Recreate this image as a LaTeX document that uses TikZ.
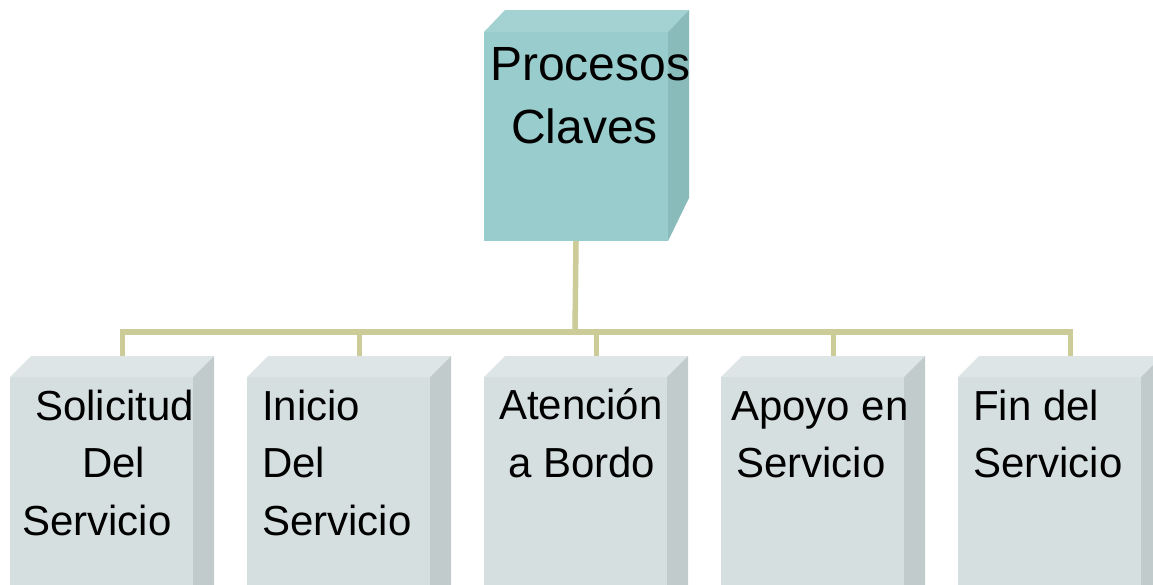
\documentclass[tikz,border=0pt]{standalone}
\usepackage{fontspec}
\setmainfont{Liberation Sans}
\usetikzlibrary{calc}
\definecolor{topfront}{RGB}{153,204,204}
\definecolor{toptop}{RGB}{164,210,210}
\definecolor{topside}{RGB}{138,187,187}
\definecolor{boxfront}{RGB}{214,223,224}
\definecolor{boxtop}{RGB}{222,229,230}
\definecolor{boxside}{RGB}{194,203,204}
\definecolor{connc}{RGB}{204,204,153}
\tikzset{
  face/.style={inner sep=0pt, outer sep=0pt, anchor=north west, draw=none},
  conn/.style={draw=connc, line width=5.5pt},
  bigtxt/.style={anchor=base west, inner sep=0pt, font=\fontsize{48}{56}\selectfont},
  smalltxt/.style={anchor=base west, inner sep=0pt, font=\fontsize{42}{50}\selectfont},
}
\begin{document}
\begin{tikzpicture}[x=1pt,y=-1pt]
\useasboundingbox (0,0) rectangle (1153,584);
\clip (0,0) rectangle (1153,584);
\fill[white] (0,0) rectangle (1153,584);
% top box
\node[face, fill=topfront, minimum width=184pt, minimum height=209pt] (top) at (484,32) {};
\fill[toptop] (top.north west) -- ++(21,-22) -- ++(184,0) -- (top.north east) -- cycle;
\fill[topside] (top.north east) -- ++(21,-22) -- ++(0,188) -- (top.south east) -- cycle;
\node[bigtxt] (tt1) at (490,80) {Procesos};
\node[bigtxt] (tt2) at (511,143) {Claves};
% bottom boxes
\foreach \i/\x in {1/10,2/247,3/484,4/721,5/958}{
  \node[face, fill=boxfront, minimum width=183pt, minimum height=240pt] (b\i) at (\x,377) {};
  \fill[boxtop] (b\i.north west) -- ++(21,-21) -- ++(183,0) -- (b\i.north east) -- cycle;
  \fill[boxside] (b\i.north east) -- ++(21,-21) -- ++(0,240) -- (b\i.south east) -- cycle;
  \coordinate (c\i) at ($(b\i.north)+(21,-21)$);
}
% connectors
\coordinate (bus) at (575,332);
\draw[conn] (top.south) -- (bus);
\draw[conn] (c1) -- (c1 |- bus) -- (c5 |- bus) -- (c5);
\foreach \i in {2,3,4}{ \draw[conn] (c\i) -- (c\i |- bus); }
% texts
\node[smalltxt] (s1a) at (35,420) {Solicitud};
\node[smalltxt] (s1b) at (82,477) {Del};
\node[smalltxt] (s1c) at (22,535) {Servicio};
\node[smalltxt] (s2a) at (262,420) {Inicio};
\node[smalltxt] (s2b) at (262,477) {Del};
\node[smalltxt] (s2c) at (262,535) {Servicio};
\node[smalltxt] (s3a) at (499,419) {Atención};
\node[smalltxt] (s3b) at (508,477) {a Bordo};
\node[smalltxt] (s4a) at (731,420) {Apoyo en};
\node[smalltxt] (s4b) at (736,477) {Servicio};
\node[smalltxt] (s5a) at (973,420) {Fin del};
\node[smalltxt] (s5b) at (973,477) {Servicio};
\end{tikzpicture}
\end{document}
